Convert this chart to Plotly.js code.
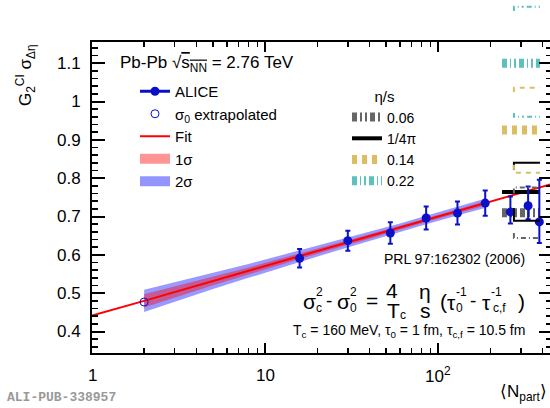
<!DOCTYPE html>
<html><head><meta charset="utf-8">
<script src="https://cdn.plot.ly/plotly-3.0.1.min.js"></script>
<style>html,body{margin:0;padding:0;background:#fff;overflow:hidden;width:550px;height:408px}#chart{width:552px;height:408px}</style>
</head><body><div id="chart"></div>
<script>
// ALICE measurement: G2 width vs <Npart>
const nPart   = [15.8, 30.0, 52.8, 85.0, 128.9, 186.4, 260.5, 329.7, 382.8];
const widthG2 = [0.591, 0.637, 0.657, 0.696, 0.709, 0.735, 0.712, 0.728, 0.686];
const errUp   = [0.024, 0.026, 0.028, 0.030, 0.030, 0.033, 0.040, 0.050, 0.110];
const errDown = [0.024, 0.026, 0.028, 0.030, 0.030, 0.033, 0.030, 0.035, 0.055];

// sigma_0 extrapolated point
const extrapX = [2.0];
const extrapY = [0.477];

// Fit line
const fitX = [1, 2, 10, 100, 445];
const fitY = [0.442, 0.480, 0.571, 0.700, 0.784];

// Fit confidence bands
const bandX   = [2, 3, 5, 8, 12, 16, 25, 40, 60, 90, 130, 188];
const band2Hi = [0.509, 0.528, 0.553, 0.576, 0.597, 0.612, 0.635, 0.660, 0.682, 0.705, 0.725, 0.747];
const band2Lo = [0.451, 0.478, 0.511, 0.540, 0.565, 0.582, 0.609, 0.636, 0.660, 0.683, 0.703, 0.723];
const band1Hi = [0.497, 0.517, 0.543, 0.567, 0.589, 0.604, 0.628, 0.654, 0.676, 0.699, 0.719, 0.741];
const band1Lo = [0.463, 0.489, 0.521, 0.549, 0.573, 0.590, 0.616, 0.642, 0.666, 0.689, 0.709, 0.729];

// Model predictions (PRL 97:162302) for central collisions
const etaOverS    = ['0.06', '1/4π', '0.14', '0.22'];
const modelX      = [233, 386];          // thick central prediction span
const modelMid    = [0.710, 0.764, 0.926, 1.100];
const boundX      = [273, 273, 386];     // thin bound lines (with step)
const modelUpper  = [[0.760, 0.776, 0.776], [0.822, 0.840, 0.840], [1.025, 1.036, 1.036], [1.236, 1.247, 1.247]];
const modelLower  = [[0.657, 0.644, 0.644], [0.722, 0.689, 0.689], [0.835, 0.814, 0.814], [0.970, 0.960, 0.960]];
const modelColors = ['#666666', '#000000', '#dcbd62', '#5fbfbf'];
const modelDash   = ['5px,3px,2px,3px,2px,3px', 'solid', '5px,5px', '5px,3px,1px,3px,2px,3px'];
const modelThinDash = ['5px,3px,1px,3px', 'solid', '5px,5px', '5px,3px,1px,3px,2px,3px'];

// Axis ticks
const xTickVals = [1, 10, 100];
const xTickText = ['1', '10', '10<sup>2</sup>'];
const xMinorVals = [2,3,4,5,6,7,8,9,20,30,40,50,60,70,80,90,200,300,400];

const BLUE = '#0a10c8';
const FONT = 'Liberation Sans, Arial, Helvetica, sans-serif';

const traces = [];
// 2 sigma band
traces.push({x: bandX, y: band2Lo, mode: 'lines', line: {width: 0}, hoverinfo: 'skip', showlegend: false});
traces.push({x: bandX, y: band2Hi, mode: 'lines', fill: 'tonexty', fillcolor: 'rgba(0,0,255,0.4)',
  line: {width: 0}, showlegend: false});
// 1 sigma band
traces.push({x: bandX, y: band1Lo, mode: 'lines', line: {width: 0}, hoverinfo: 'skip', showlegend: false});
traces.push({x: bandX, y: band1Hi, mode: 'lines', fill: 'tonexty', fillcolor: 'rgba(255,0,0,0.4)',
  line: {width: 0}, showlegend: false});
// legend proxies for the bands
traces.push({x: [null], y: [null], mode: 'lines', line: {color: '#ff9494', width: 10}, name: '1σ', legendrank: 4});
traces.push({x: [null], y: [null], mode: 'lines', line: {color: '#9494ff', width: 10}, name: '2σ', legendrank: 5});
// Fit
traces.push({x: fitX, y: fitY, mode: 'lines', line: {color: '#ff0000', width: 2}, name: 'Fit', legendrank: 3});

// Model lines
etaOverS.forEach((lab, i) => {
  const wide = modelDash[i] === 'solid' ? 4 : 9;
  traces.push({x: modelX, y: [modelMid[i], modelMid[i]], mode: 'lines',
    line: {color: modelColors[i], width: wide, dash: modelDash[i]},
    name: lab, legend: 'legend2', legendrank: i + 1});
  traces.push({x: boundX, y: modelLower[i], mode: 'lines',
    line: {color: modelColors[i], width: 2, dash: modelThinDash[i]}, showlegend: false,
    xaxis: 'x2', yaxis: 'y2'});
  traces.push({x: boundX, y: modelUpper[i], mode: 'lines',
    line: {color: modelColors[i], width: 2, dash: modelThinDash[i]}, showlegend: false,
    xaxis: 'x2', yaxis: 'y2'});
});

// ALICE points
traces.push({x: nPart, y: widthG2, mode: 'markers', marker: {color: BLUE, size: 9},
  error_y: {type: 'data', symmetric: false, array: errUp, arrayminus: errDown, color: BLUE, thickness: 2, width: 2.5},
  showlegend: false});
// legend proxy for ALICE (line + marker)
traces.push({x: [null], y: [null], mode: 'lines+markers', line: {color: BLUE, width: 3},
  marker: {color: BLUE, size: 9}, name: 'ALICE', legendrank: 1});
// Extrapolated sigma_0
traces.push({x: extrapX, y: extrapY, mode: 'markers',
  marker: {symbol: 'circle-open', color: BLUE, size: 8, line: {width: 1, color: BLUE}},
  name: 'σ<sub>0</sub> extrapolated', legendrank: 2});

const W = 552, L = 92;
const plotW = W - L;
const plotH = 353;
const yTopPx = 41.7;
const yRange = [0.344, 1.156];
const pxPerUnit = (plotH - yTopPx) / (yRange[1] - yRange[0]);
const y2Top = yRange[0] + plotH / pxPerUnit;
const xRange = [0, 2.6445 + 2 / 173.2];
const px = v => (v - L) / plotW;        // pixel -> paper x
const py = v => (plotH - v) / plotH;    // pixel -> paper y

const tickFont = {family: FONT, size: 17, color: '#000'};

const note = (text, x, y, size, xanchor, extra) => Object.assign({xref: 'paper', yref: 'paper',
  x: px(x), y: py(y), xanchor: xanchor || 'center', yanchor: 'middle', showarrow: false, text: text,
  font: {family: FONT, size: size, color: '#000'}}, extra || {});

const annotations = [
  note('Pb-Pb √<span style="text-decoration:overline">s<sub>NN</sub></span> = 2.76 TeV', 118, 64, 17, 'left'),
  note('PRL 97:162302 (2006)', 527, 259, 14, 'right'),
  // formula  σc² - σ0² = (4/Tc)(η/s)(τ0⁻¹ - τc,f⁻¹), built with stacked indices
  note('σ', 309, 301, 21), note('2', 319, 292, 12), note('c', 319, 308, 12),
  note('-', 329, 300, 19),
  note('σ', 343, 301, 21), note('2', 353, 292, 12), note('0', 353, 308, 12),
  note('=', 372, 300, 21),
  note('4', 392, 290, 21),
  note('T', 393, 310, 21), note('c', 403, 315, 12),
  note('η', 425, 291, 21),
  note('s', 425, 310, 21),
  note('(', 443, 301, 21),
  note('τ', 451, 302, 21), note('-1', 461, 292, 12), note('0', 459, 308, 12),
  note('-', 473, 300, 19),
  note('τ', 486, 302, 21), note('-1', 496, 292, 12), note('c,f', 499, 308, 12),
  note(')', 521, 301, 21),
  note('T<sub>c</sub> = 160 MeV, τ<sub>0</sub> = 1 fm, τ<sub>c,f</sub> = 10.5 fm', 527, 331, 14, 'right'),
  Object.assign(note('G<sub>2</sub><sup>CI</sup> σ<sub>Δη</sub>', 25, 42, 17, 'center'), {yanchor: 'top', textangle: -90}),
  note('⟨N<sub>part</sub>⟩', 549, 393, 17, 'right'),
  Object.assign(note('<b>ALI-PUB-338957</b>', 5, 398, 13, 'left'),
    {font: {family: 'Liberation Mono, Courier New, monospace', size: 13, color: '#999999'}})
];
// x tick labels placed on the log axis scale
xTickVals.forEach((v, i) => annotations.push({xref: 'x', yref: 'paper', x: Math.log10(v), y: py(375),
  xanchor: 'center', yanchor: 'middle', showarrow: false, text: xTickText[i], font: tickFont}));

const layout = {
  width: W, height: 408,
  margin: {l: L, r: 0, t: 0, b: 55},
  paper_bgcolor: '#fff', plot_bgcolor: 'rgba(0,0,0,0)',
  font: {family: FONT, color: '#000'},
  showlegend: true,
  xaxis: {type: 'log', range: xRange, domain: [0, 1], anchor: 'y',
    showline: true, linewidth: 2, linecolor: '#000', mirror: 'ticks',
    ticks: 'inside', ticklen: 10, tickwidth: 2, tickcolor: '#000',
    tickmode: 'array', tickvals: xTickVals, ticktext: xTickText, showticklabels: false,
    minor: {tickmode: 'array', tickvals: xMinorVals, ticks: 'inside', ticklen: 5, tickwidth: 1.5, tickcolor: '#000', showgrid: false},
    showgrid: false, zeroline: false, tickfont: tickFont},
  yaxis: {range: yRange, domain: [0, (plotH - yTopPx) / plotH], anchor: 'x',
    showline: true, linewidth: 2, linecolor: '#000', mirror: 'ticks',
    ticks: 'inside', ticklen: 13, tickwidth: 2, tickcolor: '#000',
    tick0: 0, dtick: 0.1,
    minor: {dtick: 0.02, ticks: 'inside', ticklen: 6, tickwidth: 1.5, tickcolor: '#000', showgrid: false},
    showgrid: false, zeroline: false, tickfont: tickFont, ticklabelstandoff: 6},
  xaxis2: {type: 'log', range: xRange, domain: [0, 1], anchor: 'y2', visible: false},
  yaxis2: {range: [yRange[0], y2Top], domain: [0, 1], anchor: 'x2', visible: false},
  legend: {x: px(135), y: py(75), xanchor: 'left', yanchor: 'top', bgcolor: 'rgba(0,0,0,0)',
    font: {family: FONT, size: 15, color: '#000'}, itemwidth: 30, traceorder: 'normal'},
  legend2: {x: px(347), y: py(82), xanchor: 'left', yanchor: 'top', bgcolor: 'rgba(0,0,0,0)',
    font: {family: FONT, size: 14, color: '#000'}, itemwidth: 30, traceorder: 'normal',
    title: {text: 'η/s', side: 'top center', font: {family: FONT, size: 15}}},
  annotations: annotations
};

Plotly.newPlot('chart', traces, layout, {staticPlot: true, displayModeBar: false});
</script>
</body></html>
